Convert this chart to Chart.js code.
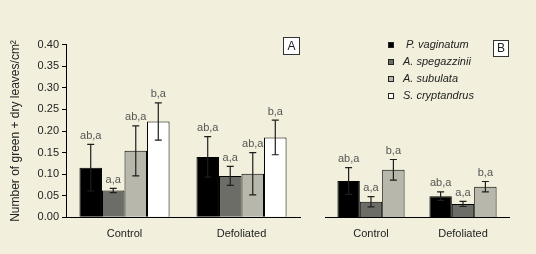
<!DOCTYPE html>
<html>
<head>
<meta charset="utf-8">
<script src="https://cdn.jsdelivr.net/npm/chart.js@4"></script>
<style>
  body { margin: 0; background: #f2f0dc; }
  #wrap { position: relative; width: 536px; height: 254px; background: #f2f0dc; overflow: hidden; }
  canvas { position: absolute; top: 0; }
  #chartA { left: 0; }
  #chartB { left: 310px; }
</style>
</head>
<body>
<div id="wrap">
  <canvas id="chartA" width="310" height="254"></canvas>
  <canvas id="chartB" width="226" height="254"></canvas>
</div>
<script>
// leaves per cm2, two panels, mean +- SE with letters
const categories = ["Control", "Defoliated"];
const species = ["P. vaginatum", "A. spegazzinii", "A. subulata", "S. cryptandrus"];
const colors = ["#000000", "#6d6d68", "#b7b7ab", "#ffffff"];
const yTicks = [0, 0.05, 0.10, 0.15, 0.20, 0.25, 0.30, 0.35, 0.40];

// panel A (all four species)
const pVagA = [0.115, 0.140];
const aSpeA = [0.062, 0.096];
const aSubA = [0.154, 0.101];
const sCryA = [0.222, 0.185];
const seA = [[0.054, 0.047], [0.005, 0.022], [0.058, 0.049], [0.043, 0.040]];
const lettersA = [["ab,a", "ab,a"], ["a,a", "a,a"], ["ab,a", "ab,a"], ["b,a", "b,a"]];

// panel B (three species)
const pVagB = [0.084, 0.049];
const aSpeB = [0.036, 0.031];
const aSubB = [0.110, 0.071];
const seB = [[0.031, 0.010], [0.012, 0.006], [0.024, 0.012]];
const lettersB = [["ab,a", "ab,a"], ["a,a", "a,a"], ["b,a", "b,a"]];

const FONT = '"Liberation Sans", Arial, sans-serif';
Chart.defaults.font.family = FONT;
Chart.defaults.font.size = 11;
Chart.defaults.color = "#222";

const errorBars = {
  id: "errorBars",
  afterDatasetsDraw(chart) {
    const ctx = chart.ctx;
    const y = chart.scales.y;
    ctx.save();
    ctx.strokeStyle = "#1e1e1e";
    ctx.lineWidth = 1.2;
    ctx.fillStyle = "#555";
    ctx.font = "11px " + FONT;
    ctx.textAlign = "center";
    ctx.textBaseline = "bottom";
    chart.data.datasets.forEach((ds, i) => {
      chart.getDatasetMeta(i).data.forEach((bar, j) => {
        const v = ds.data[j], e = ds.errors[j];
        const top = y.getPixelForValue(v + e);
        const bot = y.getPixelForValue(v - e);
        ctx.beginPath();
        ctx.moveTo(bar.x, top); ctx.lineTo(bar.x, bot);
        ctx.moveTo(bar.x - 3.5, top); ctx.lineTo(bar.x + 3.5, top);
        ctx.moveTo(bar.x - 3.5, bot); ctx.lineTo(bar.x + 3.5, bot);
        ctx.stroke();
        ctx.fillText(ds.letters[j], bar.x, top - 3);
      });
    });
    ctx.restore();
  }
};

const panelTag = {
  id: "panelTag",
  afterDraw(chart, args, o) {
    if (!o.text) return;
    const ctx = chart.ctx;
    ctx.save();
    ctx.fillStyle = "#fff";
    ctx.fillRect(o.x, o.y, o.w, o.h);
    ctx.strokeStyle = "#333";
    ctx.lineWidth = 1;
    ctx.strokeRect(o.x + 0.5, o.y + 0.5, o.w, o.h);
    ctx.fillStyle = "#222";
    ctx.font = "12px " + FONT;
    ctx.textAlign = "center";
    ctx.textBaseline = "middle";
    ctx.fillText(o.text, o.x + o.w / 2 + 0.5, o.y + o.h / 2 + 1);
    ctx.restore();
  }
};

const speciesKey = {
  id: "speciesKey",
  afterDraw(chart, args, o) {
    if (!o.show) return;
    const ctx = chart.ctx;
    ctx.save();
    ctx.font = "italic 11px " + FONT;
    ctx.textBaseline = "middle";
    ctx.textAlign = "left";
    species.forEach((name, i) => {
      const cy = o.y + i * o.gap;
      ctx.fillStyle = colors[i];
      ctx.fillRect(o.x - 3, cy - 3, 6, 6);
      ctx.strokeStyle = "#222";
      ctx.lineWidth = 1;
      ctx.strokeRect(o.x - 3 + 0.5, cy - 3 + 0.5, 5, 5);
      ctx.fillStyle = "#222";
      ctx.fillText(name, o.x + (i === 0 ? 15 : 12), cy);
    });
    ctx.restore();
  }
};

function makeSets(values, errs, letters) {
  return values.map((vals, i) => ({
    label: species[i],
    data: vals,
    errors: errs[i],
    letters: letters[i],
    backgroundColor: colors[i],
    borderColor: "#000",
    borderWidth: 1
  }));
}

function makeOptions(showY, catPct, padding, tag, key) {
  return {
    responsive: false,
    animation: false,
    layout: { padding: padding },
    datasets: { bar: { categoryPercentage: catPct, barPercentage: 1 } },
    plugins: {
      legend: { display: false },
      tooltip: { enabled: false },
      panelTag: tag,
      speciesKey: key
    },
    scales: {
      x: {
        grid: { display: true, drawOnChartArea: false, drawTicks: false },
        border: { color: "#000", width: 1 },
        ticks: { padding: 10, color: "#222" },
        afterFit: s => { s.height = 36.7; }
      },
      y: {
        display: showY,
        min: 0,
        max: 0.4,
        afterBuildTicks: s => { s.ticks = yTicks.map(v => ({ value: v })); },
        ticks: { callback: v => v.toFixed(2), padding: 3, color: "#222" },
        grid: { drawOnChartArea: false, tickLength: 4, color: "#000" },
        border: { color: "#000", width: 1 },
        title: {
          display: showY,
          text: "Number of green + dry leaves/cm²",
          font: { size: 12 },
          color: "#222",
          padding: { top: 8, bottom: 0 }
        },
        afterFit: s => { if (showY) s.width = 66; }
      }
    }
  };
}

const chartA = new Chart(document.getElementById("chartA"), {
  type: "bar",
  data: {
    labels: categories,
    datasets: makeSets([pVagA, aSpeA, aSubA, sCryA], seA, lettersA)
  },
  options: makeOptions(true, 0.77,
    { left: 0, right: 10, top: 44.7, bottom: 0 },
    { text: "A", x: 283, y: 37, w: 16, h: 17 },
    { show: false }),
  plugins: [errorBars, panelTag, speciesKey]
});

const chartB = new Chart(document.getElementById("chartB"), {
  type: "bar",
  data: {
    labels: categories,
    datasets: makeSets([pVagB, aSpeB, aSubB], seB, lettersB)
  },
  options: makeOptions(false, 0.73,
    { left: 15, right: 27, top: 44.7, bottom: 0 },
    { text: "B", x: 183, y: 40, w: 15, h: 16 },
    { show: true, x: 81, y: 45, gap: 17 }),
  plugins: [errorBars, panelTag, speciesKey]
});
</script>
</body>
</html>
